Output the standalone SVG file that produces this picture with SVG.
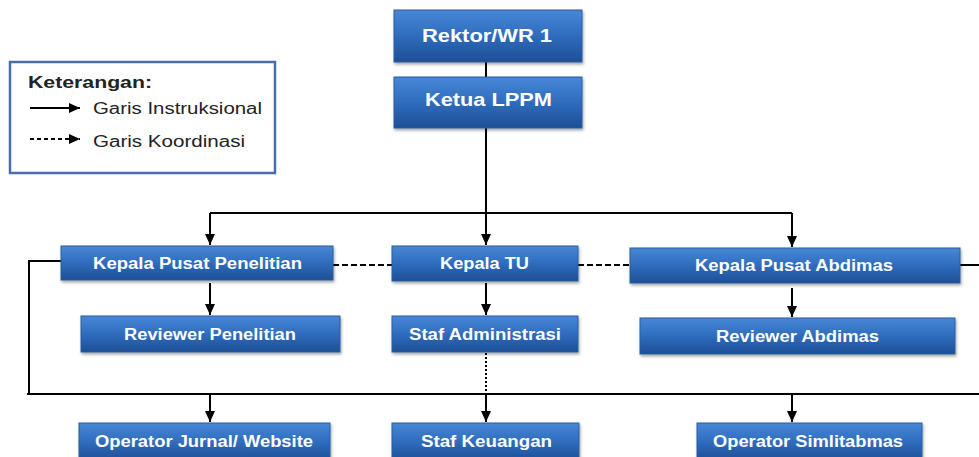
<svg xmlns="http://www.w3.org/2000/svg" width="979" height="457" viewBox="0 0 979 457">
<defs>
<linearGradient id="bg" x1="0" y1="0" x2="0" y2="1">
<stop offset="0" stop-color="#4688d6"/>
<stop offset="0.5" stop-color="#2f6cbd"/>
<stop offset="1" stop-color="#1d4f95"/>
</linearGradient>
<filter id="sh" x="-5%" y="-10%" width="110%" height="140%">
<feDropShadow dx="1" dy="2" stdDeviation="1.5" flood-color="#000" flood-opacity="0.35"/>
</filter>
<marker id="ah" markerUnits="userSpaceOnUse" markerWidth="12" markerHeight="10" refX="11" refY="5" orient="auto">
<path d="M0,0 L11,5 L0,10 Z" fill="#000"/>
</marker>
</defs>
<style>
.box{fill:url(#bg);stroke:#2a5c9e;stroke-width:1;filter:url(#sh)}
.t{font-family:"Liberation Sans",Arial,sans-serif;font-weight:bold;fill:#fff;font-size:16px;text-anchor:start}
.t1{font-size:18px}
.c{stroke:#000;stroke-width:2;fill:none}
.ar{marker-end:url(#ah)}
.lg{font-family:"Liberation Sans",Arial,sans-serif;fill:#222;font-size:16px}
</style>
<rect width="979" height="457" fill="#fff"/>

<g id="legend">
<rect x="10" y="62" width="265" height="111" fill="#fff" stroke="#4a6ea8" stroke-width="2.5"/>
<text class="lg" x="28" y="88" font-weight="bold" fill="#000" textLength="124" lengthAdjust="spacingAndGlyphs">Keterangan:</text>
<line class="c ar" x1="30" y1="108" x2="80" y2="108" stroke-width="1.5"/>
<text class="lg" x="93" y="114" textLength="169" lengthAdjust="spacingAndGlyphs">Garis Instruksional</text>
<line class="c ar" x1="30" y1="139" x2="80" y2="139" stroke-width="1.5" stroke-dasharray="4,3"/>
<text class="lg" x="93" y="147" textLength="152" lengthAdjust="spacingAndGlyphs">Garis Koordinasi</text>
</g>

<g id="connectors">
<line class="c" x1="486" y1="62" x2="486" y2="77"/>
<line class="c" x1="486" y1="128" x2="486" y2="213"/>
<line class="c" x1="210" y1="213" x2="792" y2="213"/>
<line class="c ar" x1="486" y1="213" x2="486" y2="245"/>
<line class="c ar" x1="210" y1="213" x2="210" y2="245"/>
<line class="c ar" x1="792" y1="213" x2="792" y2="247"/>
<line class="c ar" x1="210" y1="283" x2="210" y2="315"/>
<line class="c ar" x1="486" y1="283" x2="486" y2="315"/>
<line class="c ar" x1="792" y1="288" x2="792" y2="317"/>
<line class="c" x1="333" y1="265" x2="392" y2="265" stroke="#5a6470" stroke-dasharray="6,3"/>
<line class="c" x1="578" y1="265" x2="630" y2="265" stroke-dasharray="6,3"/>
<polyline class="c" points="61,261 29,261 29,394"/>
<line class="c" x1="27" y1="394" x2="979" y2="394"/>
<line class="c" x1="960" y1="265" x2="979" y2="265"/>
<line class="c" x1="486" y1="353" x2="486" y2="394" stroke-dasharray="2,2"/>
<line class="c ar" x1="210" y1="394" x2="210" y2="422"/>
<line class="c ar" x1="486" y1="394" x2="486" y2="422"/>
<line class="c ar" x1="792" y1="394" x2="792" y2="422"/>
</g>

<g id="n-rektor">
<rect class="box" x="394" y="10" width="188" height="52"/>
<text class="t t1" x="422" y="42" textLength="130" lengthAdjust="spacingAndGlyphs">Rektor/WR 1</text>
</g>
<g id="n-ketua">
<rect class="box" x="394" y="77" width="188" height="51"/>
<text class="t t1" x="425" y="106" textLength="127" lengthAdjust="spacingAndGlyphs">Ketua LPPM</text>
</g>
<g id="n-kpp">
<rect class="box" x="61" y="246" width="272" height="34"/>
<text class="t" x="93" y="269" textLength="209" lengthAdjust="spacingAndGlyphs">Kepala Pusat Penelitian</text>
</g>
<g id="n-ktu">
<rect class="box" x="392" y="246" width="186" height="35"/>
<text class="t" x="440" y="269" textLength="89" lengthAdjust="spacingAndGlyphs">Kepala TU</text>
</g>
<g id="n-kpa">
<rect class="box" x="630" y="248" width="330" height="35"/>
<text class="t" x="695" y="271" textLength="198" lengthAdjust="spacingAndGlyphs">Kepala Pusat Abdimas</text>
</g>
<g id="n-revp">
<rect class="box" x="81" y="316" width="259" height="36"/>
<text class="t" x="124" y="340" textLength="172" lengthAdjust="spacingAndGlyphs">Reviewer Penelitian</text>
</g>
<g id="n-staf-adm">
<rect class="box" x="392" y="316" width="186" height="36"/>
<text class="t" x="409" y="340" textLength="152" lengthAdjust="spacingAndGlyphs">Staf Administrasi</text>
</g>
<g id="n-reva">
<rect class="box" x="640" y="318" width="315" height="36"/>
<text class="t" x="716" y="342" textLength="163" lengthAdjust="spacingAndGlyphs">Reviewer Abdimas</text>
</g>
<g id="n-opj">
<rect class="box" x="79" y="423" width="251" height="38"/>
<text class="t" x="95" y="447" textLength="218" lengthAdjust="spacingAndGlyphs">Operator Jurnal/ Website</text>
</g>
<g id="n-stafk">
<rect class="box" x="392" y="423" width="187" height="38"/>
<text class="t" x="421" y="447" textLength="131" lengthAdjust="spacingAndGlyphs">Staf Keuangan</text>
</g>
<g id="n-ops">
<rect class="box" x="697" y="423" width="225" height="38"/>
<text class="t" x="713" y="447" textLength="190" lengthAdjust="spacingAndGlyphs">Operator Simlitabmas</text>
</g>
</svg>
